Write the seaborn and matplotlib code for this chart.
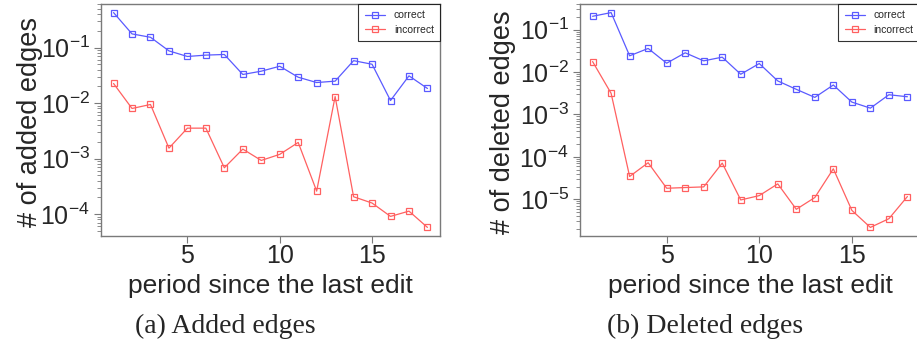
import numpy as np
import pandas as pd
import seaborn as sns
import matplotlib
matplotlib.use("Agg")
import matplotlib.pyplot as plt
from matplotlib.ticker import LogLocator, LogFormatterMathtext, FixedLocator, NullFormatter

period = list(range(1, 19))

added_correct = [0.426, 0.176, 0.153, 0.087, 0.069, 0.073, 0.075, 0.0327, 0.0375,
                 0.046, 0.0292, 0.0234, 0.0248, 0.058, 0.050, 0.0111, 0.0309, 0.0183]
added_incorrect = [0.0225, 0.00798, 0.00942, 0.00154, 0.00353, 0.00353, 0.000682, 0.00148,
                   0.000925, 0.00119, 0.00195, 0.000259, 0.0131, 0.000205, 0.000158,
                   0.0000908, 0.000113, 0.0000575]

deleted_correct = [0.207, 0.253, 0.0242, 0.0361, 0.0162, 0.0285, 0.0184, 0.0225, 0.00889,
                   0.0159, 0.00618, 0.00392, 0.00253, 0.00496, 0.00196, 0.00141, 0.00292, 0.00262]
deleted_incorrect = [0.0177, 0.00315, 3.45e-5, 7.28e-5, 1.82e-5, 1.89e-5, 1.96e-5, 7.14e-5,
                     9.64e-6, 1.22e-5, 2.31e-5, 5.8e-6, 1.10e-5, 5.24e-5, 5.48e-6, 2.17e-6,
                     3.48e-6, 1.16e-5]

series_names = ["correct", "incorrect"]
x_ticks = [5, 10, 15]
x_label = "period since the last edit"
y_labels = ["# of added edges", "# of deleted edges"]
captions = ["(a) Added edges", "(b) Deleted edges"]

sns.set_style("ticks")
plt.rcParams["font.family"] = ["Liberation Sans", "DejaVu Sans"]
plt.rcParams["mathtext.fontset"] = "custom"
plt.rcParams["mathtext.rm"] = "Liberation Sans"
plt.rcParams["mathtext.default"] = "regular"

colors = {"correct": "#5a5aff", "incorrect": "#ff6060"}
spine_col = "#7a7a7a"

fig = plt.figure(figsize=(9.17, 3.49), dpi=100)
W, H = 917, 349
boxes = [(101, 4, 440, 236), (580, 4, 920, 236)]
datasets = [(added_correct, added_incorrect), (deleted_correct, deleted_incorrect)]
ylab_x = [30, 503]

for i, ((x0, y0, x1, y1), (c, inc)) in enumerate(zip(boxes, datasets)):
    ax = fig.add_axes([x0 / W, 1 - y1 / H, (x1 - x0) / W, (y1 - y0) / H])
    df = pd.DataFrame({
        "period": period * 2,
        "value": c + inc,
        "series": ["correct"] * len(period) + ["incorrect"] * len(period),
    })
    for name in series_names:
        sub = df[df["series"] == name]
        sns.lineplot(data=sub, x="period", y="value", ax=ax, color=colors[name],
                     marker="s", markersize=4.8, markerfacecolor="none",
                     markeredgecolor=colors[name], markeredgewidth=0.9,
                     linewidth=0.9, label=name)
    ax.set_yscale("log")
    vals = np.log10(np.array(c + inc))
    lo, hi = vals.min(), vals.max()
    pad = 0.04 * (hi - lo)
    ax.set_ylim(10 ** (lo - pad), 10 ** (hi + pad))
    ax.set_xlim(1 - 0.04 * 17, 18 + 0.04 * 17)
    ax.xaxis.set_major_locator(FixedLocator(x_ticks))
    ax.yaxis.set_major_locator(LogLocator(base=10, numticks=20))
    ax.yaxis.set_major_formatter(LogFormatterMathtext())
    ax.yaxis.set_minor_locator(LogLocator(base=10, subs=np.arange(2, 10), numticks=20))
    ax.yaxis.set_minor_formatter(NullFormatter())
    ax.tick_params(axis="both", which="major", labelsize=18, length=5, width=0.8,
                   color=spine_col, pad=3)
    ax.tick_params(axis="x", which="major", pad=1)
    ax.tick_params(axis="y", which="minor", length=3, width=0.6, color=spine_col)
    for s in ax.spines.values():
        s.set_visible(True)
        s.set_color(spine_col)
        s.set_linewidth(1.0)
    ax.set_xlabel(x_label, fontsize=19, labelpad=4)
    ax.set_ylabel("")
    fig.text(ylab_x[i] / W, 1 - 122 / H, y_labels[i], rotation=90, fontsize=19.5,
             ha="center", va="center")
    leg = ax.legend(loc="upper right", fontsize=7.5, frameon=True, fancybox=False,
                    borderaxespad=0, handlelength=2.0, borderpad=0.6,
                    labelspacing=0.45, handletextpad=0.8)
    leg.get_frame().set_edgecolor("black")
    leg.get_frame().set_linewidth(0.8)
    fig.text((x0 + x1) / 2 / W - 45 / W, 1 - 326 / H, captions[i], fontsize=20,
             family=["Liberation Serif", "DejaVu Serif"], ha="center", va="center")

fig.savefig("out.png", dpi=100)
